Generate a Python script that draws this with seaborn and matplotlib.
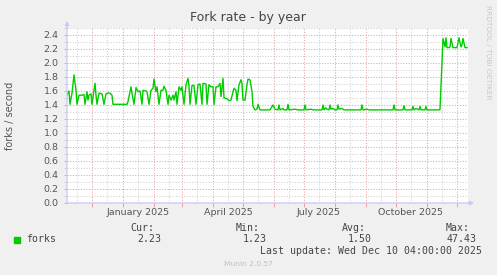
import numpy as np
import pandas as pd
import matplotlib
matplotlib.use("Agg")
import matplotlib.pyplot as plt
import matplotlib.dates as mdates
import seaborn as sns

# ---------------- data ----------------
start_date = "2024-11-06"
end_date = "2025-12-12"
day_offsets = [0, 2, 3, 5, 7, 9, 10, 12, 15, 17, 18, 20, 21, 22, 24, 25, 28, 29, 30, 32,
               35, 37, 39, 41, 43, 45, 46, 60, 61, 64, 65, 67, 69, 71, 73, 75, 76, 79, 80, 82,
               84, 86, 87, 89, 90, 92, 94, 96, 97, 99, 101, 102, 104, 106, 107, 109, 110, 112, 114, 115,
               117, 119, 121, 122, 123, 125, 127, 129, 131, 133, 135, 136, 139, 140, 142, 144, 146, 147, 149, 151,
               153, 154, 156, 157, 160, 162, 164, 166, 167, 169, 170, 172, 174, 175, 176, 178, 180, 181, 183, 185,
               186, 188, 190, 191, 193, 203, 206, 208, 211, 212, 213, 216, 217, 220, 221, 222, 228, 231, 237, 238,
               239, 244, 246, 255, 256, 257, 259, 260, 262, 263, 264, 266, 268, 270, 271, 272, 275, 277, 294, 295,
               296, 300, 302, 326, 327, 328, 336, 337, 338, 345, 346, 347, 349, 352, 353, 354, 358, 359, 360, 372,
               373, 376, 378, 379, 380, 382, 383, 384, 386, 390, 392, 394, 395, 396, 398, 400]
forks = [1.54, 1.60, 1.41, 1.57, 1.83, 1.61, 1.41, 1.54, 1.54, 1.55, 1.41, 1.59, 1.47, 1.54, 1.56, 1.41, 1.71, 1.54, 1.41, 1.57,
         1.56, 1.41, 1.56, 1.57, 1.57, 1.54, 1.41, 1.41, 1.45, 1.66, 1.57, 1.41, 1.65, 1.59, 1.60, 1.41, 1.61, 1.60, 1.59, 1.41,
         1.61, 1.64, 1.77, 1.59, 1.66, 1.41, 1.61, 1.61, 1.67, 1.61, 1.41, 1.54, 1.47, 1.54, 1.47, 1.59, 1.41, 1.66, 1.61, 1.66,
         1.41, 1.69, 1.78, 1.67, 1.41, 1.68, 1.68, 1.41, 1.69, 1.70, 1.41, 1.71, 1.70, 1.41, 1.69, 1.66, 1.66, 1.41, 1.66, 1.66,
         1.71, 1.52, 1.78, 1.50, 1.49, 1.46, 1.47, 1.59, 1.64, 1.61, 1.46, 1.69, 1.76, 1.71, 1.47, 1.47, 1.69, 1.77, 1.76, 1.59,
         1.38, 1.33, 1.34, 1.41, 1.33, 1.33, 1.40, 1.34, 1.33, 1.40, 1.33, 1.35, 1.33, 1.33, 1.41, 1.33, 1.34, 1.33, 1.33, 1.40,
         1.33, 1.34, 1.33, 1.33, 1.40, 1.33, 1.36, 1.34, 1.33, 1.40, 1.34, 1.35, 1.33, 1.33, 1.40, 1.34, 1.35, 1.33, 1.33, 1.40,
         1.33, 1.34, 1.33, 1.33, 1.40, 1.33, 1.33, 1.39, 1.33, 1.33, 1.38, 1.33, 1.35, 1.33, 1.38, 1.33, 1.33, 1.38, 1.33, 1.33,
         1.34, 2.35, 2.23, 2.36, 2.22, 2.22, 2.23, 2.35, 2.22, 2.22, 2.36, 2.23, 2.26, 2.35, 2.22, 2.22]

x_labels = ["January 2025", "April 2025", "July 2025", "October 2025"]
x_label_dates = ["2025-01-16", "2025-04-16", "2025-07-16", "2025-10-16"]
stat_names = ["Cur:", "Min:", "Avg:", "Max:"]
stat_values = ["2.23", "1.23", "1.50", "47.43"]
series_name = "forks"
title = "Fork rate - by year"
y_label = "forks / second"
last_update = "Last update: Wed Dec 10 04:00:00 2025"
footer = "Munin 2.0.57"
side_text = "RRDTOOL / TOBI OETIKER"

# ---------------- figure ----------------
W, H = 497, 275
fig = plt.figure(figsize=(W / 100, H / 100), dpi=100, facecolor="#f0f0f0")
L, R, T, B = 67, 468, 28, 203
ax = fig.add_axes([L / W, 1 - B / H, (R - L) / W, (B - T) / H])
ax.set_facecolor("white")

t0 = pd.Timestamp(start_date)
df = pd.DataFrame({"date": t0 + pd.to_timedelta(day_offsets, unit="D"), "forks": forks})

GREEN = "#00cc00"
MAJ = "#eaa0a0"
MIN = "#d0d0d0"
AXC = "#c4c8f4"

# grid
ax.set_ylim(0, 2.5)
ax.set_xlim(t0, pd.Timestamp(end_date))
ax.yaxis.set_major_locator(matplotlib.ticker.MultipleLocator(0.2))
ax.yaxis.set_minor_locator(matplotlib.ticker.MultipleLocator(0.1))
ax.yaxis.set_major_formatter(matplotlib.ticker.FormatStrFormatter("%.1f"))
ax.xaxis.set_major_locator(mdates.MonthLocator(bymonthday=1))
ax.xaxis.set_minor_locator(mdates.MonthLocator(bymonthday=16))
ax.xaxis.set_major_formatter(matplotlib.ticker.NullFormatter())
ax.grid(which="minor", color=MIN, linestyle=(0, (1, 1.6)), linewidth=0.75)
ax.grid(which="major", color=MAJ, linestyle=(0, (1, 1.6)), linewidth=0.75)
ax.set_axisbelow(True)

sns.lineplot(data=df, x="date", y="forks", ax=ax, color=GREEN, linewidth=1.0, legend=False)
ax.set_xlabel("")
ax.set_ylabel("")

for s in ax.spines.values():
    s.set_visible(False)

ax.tick_params(axis="y", which="major", length=2, width=0.7, color=MAJ, pad=4,
               labelsize=6.8, labelcolor="#555555")
ax.tick_params(axis="y", which="minor", length=2, width=0.7, color=MIN)
ax.tick_params(axis="x", which="major", length=3, width=0.7, color=MAJ, direction="out")
ax.tick_params(axis="x", which="minor", length=0)

# x labels at mid-month
for lab, d in zip(x_labels, x_label_dates):
    ax.text(pd.Timestamp(d), -0.028, lab, transform=ax.get_xaxis_transform(),
            ha="center", va="top", fontsize=6.8, color="#555555")

# axis lines with arrows
ax.annotate("", xy=(0, 1 + 7 / 175), xytext=(0, 0), xycoords="axes fraction",
            arrowprops=dict(arrowstyle="-|>", color=AXC, lw=0.9, mutation_scale=6,
                            shrinkA=0, shrinkB=0), annotation_clip=False)
ax.annotate("", xy=(1 + 6 / 401, 0), xytext=(0, 0), xycoords="axes fraction",
            arrowprops=dict(arrowstyle="-|>", color=AXC, lw=0.9, mutation_scale=6,
                            shrinkA=0, shrinkB=0), annotation_clip=False)

def fx(px):
    return px / W

def fy(py):
    return 1 - py / H

fig.text(fx(248), fy(18), title, ha="center", va="center", fontsize=9, color="#444444")
fig.text(fx(10), fy(115.5), y_label, ha="center", va="center", rotation=90,
         fontsize=7, color="#555555")
fig.text(fx(488), fy(5), side_text, ha="center", va="top", rotation=270,
         fontsize=5.3, color="#c8c8c8")

mono = "DejaVu Sans Mono"
stat_x = [154, 260, 366, 470]
for name, xr in zip(stat_names, stat_x):
    fig.text(fx(xr), fy(228), name, ha="right", va="center", family=mono,
             fontsize=7.1, color="#444444")
val_x = [137, 243, 348, 447]
for val, xl in zip(stat_values, val_x):
    fig.text(fx(xl), fy(239.5), val, ha="left", va="center", family=mono,
             fontsize=7.1, color="#444444")
fig.patches.append(matplotlib.patches.Rectangle((fx(14), fy(242.5)), 6 / W, 6 / H,
                                                 transform=fig.transFigure, color=GREEN))
fig.text(fx(26.5), fy(239.5), series_name, ha="left", va="center", family=mono,
         fontsize=7.1, color="#444444")
fig.text(fx(482), fy(251), last_update, ha="right", va="center", family=mono,
         fontsize=7.1, color="#444444")
fig.text(fx(248), fy(264.5), footer, ha="center", va="center", fontsize=5.4, color="#c0c0c0")

fig.savefig("out.png", dpi=100, facecolor=fig.get_facecolor())
